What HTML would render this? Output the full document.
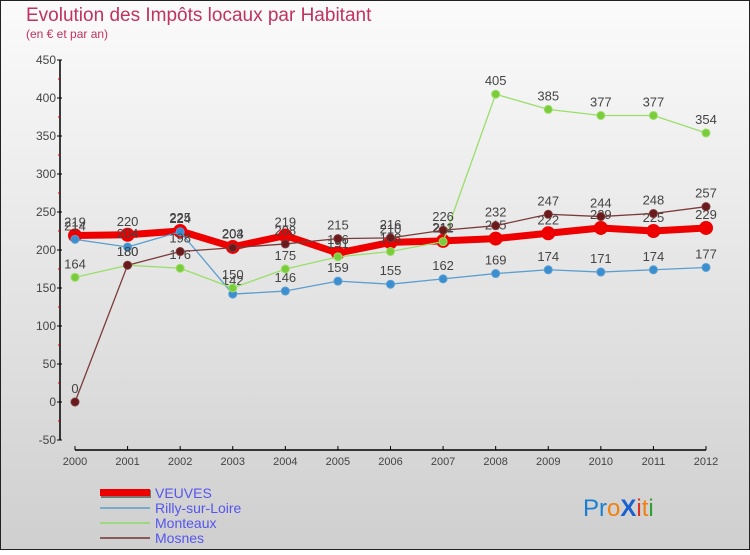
<!DOCTYPE html>
<html><head><meta charset="utf-8"><style>
body{margin:0;width:750px;height:550px;overflow:hidden;font-family:"Liberation Sans",sans-serif}
svg text{font-family:"Liberation Sans",sans-serif}
</style></head><body>
<svg id="chart" width="750" height="550" viewBox="0 0 750 550" xmlns="http://www.w3.org/2000/svg">
<defs><linearGradient id="bg" x1="0" y1="0" x2="0" y2="1"><stop offset="0" stop-color="#fbfbfb"/><stop offset="1" stop-color="#cfcfcf"/></linearGradient></defs>
<rect x="0.5" y="0.5" width="749" height="549" fill="url(#bg)" stroke="#222"/>
<text x="26" y="21" font-size="19" fill="#c0325f">Evolution des Impôts locaux par Habitant</text>
<text x="26" y="38" font-size="12" fill="#c0325f">(en € et par an)</text>
<g id="axes"></g><g id="series"></g>
<g>
<rect x="101" y="490" width="50" height="8" fill="#777"/>
<rect x="100" y="489" width="50" height="7" fill="#e00"/>
<line x1="100" y1="508" x2="150" y2="508" stroke="#7aa9c9" stroke-width="2"/>
<line x1="100" y1="523" x2="150" y2="523" stroke="#9fd67f" stroke-width="2"/>
<line x1="100" y1="538" x2="150" y2="538" stroke="#8a5a5a" stroke-width="2"/>
<text x="155" y="498" font-size="14" fill="#5555ee">VEUVES</text>
<text x="155" y="513" font-size="14" fill="#5555ee">Rilly-sur-Loire</text>
<text x="155" y="528" font-size="14" fill="#5555ee">Monteaux</text>
<text x="155" y="543" font-size="14" fill="#5555ee">Mosnes</text>
</g>
<text x="583" y="516" font-size="24"><tspan fill="#1a7fd0">Pr</tspan><tspan fill="#f08010">o</tspan><tspan fill="#1a5fd0" font-weight="bold">X</tspan><tspan fill="#e03020">i</tspan><tspan fill="#f08010">t</tspan><tspan fill="#30a030">i</tspan></text>
</svg>
<script>
const years=[2000,2001,2002,2003,2004,2005,2006,2007,2008,2009,2010,2011,2012];
const yTicks=[-50,0,50,100,150,200,250,300,350,400,450];
const veuves=[219,220,225,204,219,196,210,212,215,222,229,225,229];
const rilly=[214,204,224,142,146,159,155,162,169,174,171,174,177];
const monteaux=[164,180,176,150,175,191,198,211,405,385,377,377,354];
const mosnes=[0,180,198,203,208,215,216,226,232,247,244,248,257];
const NS="http://www.w3.org/2000/svg";
const X=i=>75+i*(706-75)/(years.length-1);
const Y=v=>60+(450-v)*0.76;
function mk(tag,attrs,parent){const e=document.createElementNS(NS,tag);for(const k in attrs)e.setAttribute(k,attrs[k]);parent.appendChild(e);return e;}
const ax=document.getElementById('axes');
let l=mk('line',{x1:60,y1:Y(450),x2:60,y2:Y(-50),stroke:'#000','stroke-width':1.5},ax);


yTicks.forEach((v,i)=>{
 let t=mk('line',{x1:57,y1:Y(v),x2:62,y2:Y(v),stroke:'#000'},ax);
 
 
 let tx=mk('text',{x:56,y:Y(v)+4,'text-anchor':'end','font-size':12,fill:'#444'},ax);
 tx.textContent=v;
 
 
 if(i<yTicks.length-1){let m=mk('line',{x1:58,y1:Y(v+25),x2:60,y2:Y(v+25),stroke:'#d00'},ax);
 
 }
});
l=mk('line',{x1:X(0),y1:450,x2:X(years.length-1),y2:450,stroke:'#000','stroke-width':1.5},ax);


years.forEach((yr,i)=>{
 let t=mk('line',{x1:X(i),y1:446,x2:X(i),y2:450,stroke:'#000'},ax);
 
 
 let tx=mk('text',{x:X(i),y:465,'text-anchor':'middle','font-size':11,fill:'#444'},ax);
 tx.textContent=yr;
 
 
});
const sg=document.getElementById('series');
function draw(data,name,color,dot,w,r){
 const g=mk('g',{},sg);
 
 
 const p=mk('polyline',{points:data.map((v,i)=>X(i)+','+Y(v)).join(' '),fill:'none',stroke:color,'stroke-width':w,'stroke-linejoin':'round'},g);
 
 
 data.forEach((v,i)=>{
  const c=mk('circle',{cx:X(i),cy:Y(v),r:r,fill:dot,stroke:color,'stroke-width':1},g);
  
  
  const t=mk('text',{x:X(i),y:Y(v)-9,'text-anchor':'middle','font-size':13,fill:'#444'},g);
  t.textContent=v;
  
  
 });
}
draw(veuves,'veuves','#ee0000','#ee0000',7,6.5);
draw(rilly,'rilly','#5b9ed0','#3b8ed0',1.3,4);
draw(monteaux,'monteaux','#9ade6a','#7acc3a',1.3,4);
draw(mosnes,'mosnes','#7a3a3a','#6a1a1a',1.3,4);
</script>
</body></html>
